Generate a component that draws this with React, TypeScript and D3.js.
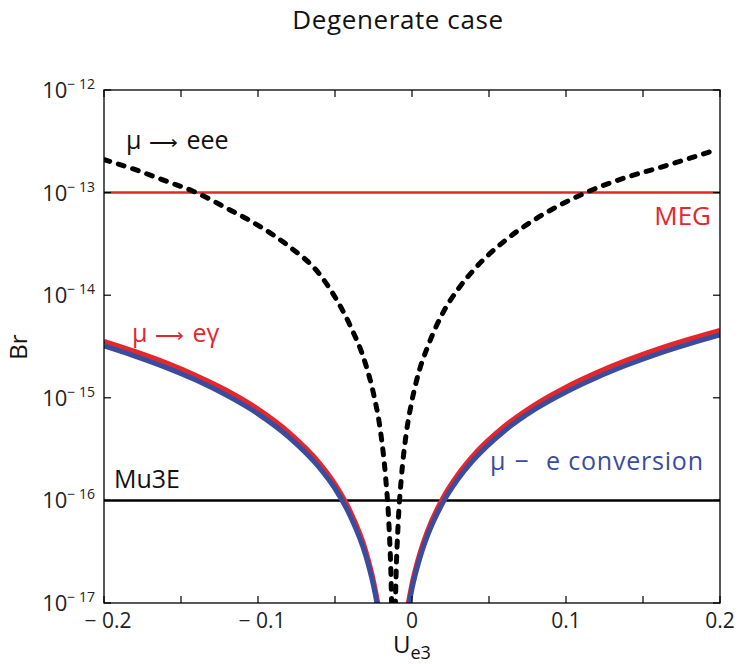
import React from "react";
import * as d3 from "d3";

// ---- data ----
const xTicks = [-0.2, -0.15, -0.1, -0.05, 0, 0.05, 0.1, 0.15, 0.2];
const xTickLabels = ["\u2212 0.2", "", "\u2212 0.1", "", "0", "", "0.1", "", "0.2"];
const yTicks = [1e-17, 1e-16, 1e-15, 1e-14, 1e-13, 1e-12];
const yTickExps = ["17", "16", "15", "14", "13", "12"];

// mu -> e e e (dashed), two branches
const eeeLeftU = [-0.2, -0.18, -0.16, -0.14, -0.12, -0.1, -0.08, -0.06, -0.05, -0.04, -0.03, -0.025, -0.02, -0.017, -0.015, -0.0135, -0.013];
const eeeLeft = [2.1e-13, 1.68e-13, 1.3e-13, 1.0e-13, 7.0e-14, 4.8e-14, 3.0e-14, 1.6e-14, 9.6e-15, 5.0e-15, 2.1e-15, 1.1e-15, 4.2e-16, 1.6e-16, 5.9e-17, 1.5e-17, 6.5e-18];
const eeeRightU = [-0.011, -0.0105, -0.009, -0.007, -0.004, 0, 0.005, 0.01, 0.02, 0.03, 0.04, 0.06, 0.08, 0.1, 0.12, 0.14, 0.16, 0.18, 0.197];
const eeeRight = [6.5e-18, 1.5e-17, 5.9e-17, 1.6e-16, 4.2e-16, 9.4e-16, 1.9e-15, 3.1e-15, 6.7e-15, 1.15e-14, 1.76e-14, 3.37e-14, 5.5e-14, 8.1e-14, 1.11e-13, 1.42e-13, 1.74e-13, 2.15e-13, 2.6e-13];

// mu -> e gamma (red) and mu - e conversion (blue)
const megLeftU = [-0.2, -0.18, -0.16, -0.14, -0.12, -0.1, -0.08, -0.06, -0.05, -0.04, -0.03, -0.025, -0.022, -0.02];
const megLeft = [3.55e-15, 2.83e-15, 2.2e-15, 1.64e-15, 1.17e-15, 7.75e-16, 4.6e-16, 2.3e-16, 1.44e-16, 7.75e-17, 3.2e-17, 1.63e-17, 9.5e-18, 6e-18];
const convLeft = [3.2e-15, 2.55e-15, 1.98e-15, 1.48e-15, 1.05e-15, 6.98e-16, 4.14e-16, 2.07e-16, 1.3e-16, 6.98e-17, 2.88e-17, 1.47e-17, 8.55e-18, 5.4e-18];
const megRightU = [-0.004, -0.002, 0, 0.005, 0.01, 0.02, 0.03, 0.04, 0.06, 0.08, 0.1, 0.12, 0.14, 0.16, 0.18, 0.2];
const megRight = [7e-18, 1.07e-17, 1.53e-17, 3.0e-17, 5.0e-17, 1.05e-16, 1.8e-16, 2.76e-16, 5.28e-16, 8.6e-16, 1.27e-15, 1.76e-15, 2.34e-15, 3.0e-15, 3.73e-15, 4.55e-15];
const convRight = [6.3e-18, 9.6e-18, 1.38e-17, 2.7e-17, 4.5e-17, 9.45e-17, 1.62e-16, 2.48e-16, 4.75e-16, 7.74e-16, 1.14e-15, 1.58e-15, 2.1e-15, 2.7e-15, 3.36e-15, 4.1e-15];

// experimental limits
const megLimit = 1e-13;
const mu3eLimit = 1e-16;

const RED = "#e5262b";
const BLUE = "#3a4c9e";
const FONT = "'Open Sans', 'Noto Sans', sans-serif";
const ARROW_FONT = "'DejaVu Sans', sans-serif";

export default function App() {
  const W = 740, H = 664;
  const left = 104, right = 720, top = 90, bottom = 603;
  const x = d3.scaleLinear().domain([-0.2, 0.2]).range([left, right]);
  const y = d3.scaleLog().domain([1e-17, 1e-12]).range([bottom, top]);

  const line = d3
    .line<[number, number]>()
    .x((d) => x(d[0]))
    .y((d) => y(d[1]))
    .curve(d3.curveMonotoneX);
  const mk = (us: number[], vs: number[]) => line(us.map((u, i) => [u, vs[i]] as [number, number])) || "";

  return (
    <svg width={W} height={H} style={{ position: "absolute", left: 0, top: 0, background: "#fff" }} fontFamily={FONT}>
      <defs>
        <clipPath id="plot">
          <rect x={left} y={top} width={right - left} height={bottom - top} />
        </clipPath>
      </defs>
      <rect x={0} y={0} width={W} height={H} fill="#fff" />

      {/* title */}
      <text x={398} y={29} textAnchor="middle" fontSize={26} letterSpacing={0.6} fill="#111">
        Degenerate case
      </text>

      <g clipPath="url(#plot)">
        <line x1={left} x2={right} y1={y(megLimit)} y2={y(megLimit)} stroke={RED} strokeWidth={2.5} />
        <line x1={left} x2={right} y1={y(mu3eLimit)} y2={y(mu3eLimit)} stroke="#000" strokeWidth={2.5} />
        <path d={mk(megLeftU, megLeft)} fill="none" stroke={RED} strokeWidth={5} />
        <path d={mk(megRightU, megRight)} fill="none" stroke={RED} strokeWidth={5} />
        <path d={mk(megLeftU, convLeft)} fill="none" stroke={BLUE} strokeWidth={5} />
        <path d={mk(megRightU, convRight)} fill="none" stroke={BLUE} strokeWidth={5} />
        <path d={mk(eeeLeftU, eeeLeft)} fill="none" stroke="#000" strokeWidth={5} strokeDasharray="6 9" strokeLinecap="round" />
        <path d={mk(eeeRightU, eeeRight)} fill="none" stroke="#000" strokeWidth={5} strokeDasharray="6 9" strokeLinecap="round" />
      </g>

      {/* frame */}
      <rect x={left} y={top} width={right - left} height={bottom - top} fill="none" stroke="#000" strokeWidth={1.3} />

      {/* x ticks */}
      {xTicks.map((t, i) => (
        <g key={"xt" + i}>
          <line x1={x(t)} x2={x(t)} y1={bottom} y2={bottom - 7} stroke="#000" strokeWidth={1.2} />
          <line x1={x(t)} x2={x(t)} y1={top} y2={top + 7} stroke="#000" strokeWidth={1.2} />
          {xTickLabels[i] && (
            <text x={x(t) + (t < 0 ? 4 : 0)} y={628} textAnchor="middle" fontSize={21} fill="#222">
              {xTickLabels[i]}
            </text>
          )}
        </g>
      ))}

      {/* y ticks */}
      {yTicks.map((t, i) => (
        <g key={"yt" + i}>
          <line x1={left} x2={left + 7} y1={y(t)} y2={y(t)} stroke="#000" strokeWidth={1.2} />
          <line x1={right} x2={right - 7} y1={y(t)} y2={y(t)} stroke="#000" strokeWidth={1.2} />
          <text x={95} y={y(t) + 8} textAnchor="end" fontSize={22} fill="#222">
            10
            <tspan fontSize={14} dy={-9}>
              {"\u2212 " + yTickExps[i]}
            </tspan>
          </text>
        </g>
      ))}

      {/* axis titles */}
      <text transform="translate(27,347) rotate(-90)" textAnchor="middle" fontSize={24} fill="#111">
        Br
      </text>
      <text x={393} y={653} fontSize={24} fill="#111">
        U<tspan fontSize={18} dy={6}>e3</tspan>
      </text>

      {/* annotations */}
      <text x={126} y={149} fontSize={25} fill="#111">
        μ<tspan dx={8} fontFamily={ARROW_FONT} fontSize={20} fontWeight={300}>⟶</tspan>
        <tspan dx={8} fontSize={25}>eee</tspan>
      </text>
      <text x={711} y={225} textAnchor="end" fontSize={26} fill={RED}>MEG</text>
      <text x={132} y={342} fontSize={25} fill={RED}>
        μ<tspan dx={8} fontFamily={ARROW_FONT} fontSize={20} fontWeight={300}>⟶</tspan>
        <tspan dx={8} fontSize={25}>eγ</tspan>
      </text>
      <text x={490} y={470} fontSize={25} fill={BLUE}>
        μ<tspan dx={9}>−</tspan>
        <tspan x={546} letterSpacing={0.8}>e conversion</tspan>
      </text>
      <text x={114} y={488} fontSize={25} fill="#111">Mu3E</text>
    </svg>
  );
}
